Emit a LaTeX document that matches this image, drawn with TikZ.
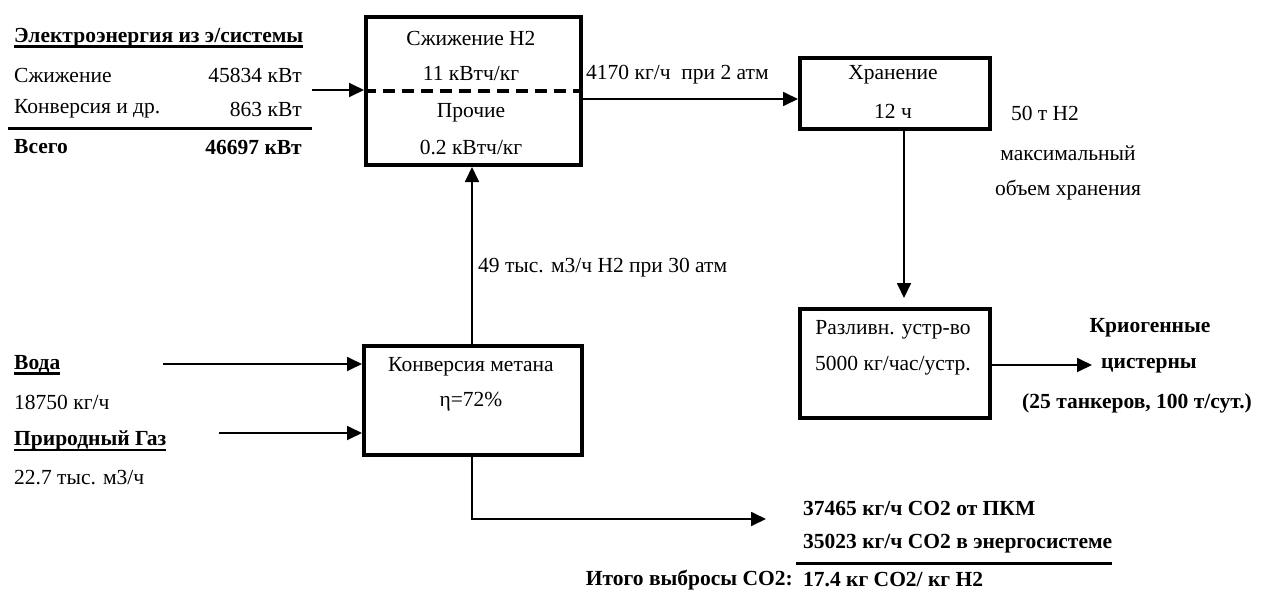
\documentclass[tikz,border=0pt]{standalone}
\usepackage{fontspec}
\setmainfont{Liberation Serif}
\usetikzlibrary{arrows.meta}
\newcommand\txtsize{\fontsize{21.5}{25}\selectfont}
% bold text with a heavy underline
\newcommand\ulbf[1]{\setbox0\hbox{\bfseries #1}\rlap{\rule[-5pt]{\wd0}{2.4pt}}\box0}
\begin{document}
\begin{tikzpicture}[x=1pt,y=-1pt,
  lbl/.style={inner sep=0pt, font=\txtsize},
  blbl/.style={inner sep=0pt, font=\txtsize\bfseries},
  box/.style={draw, line width=4pt, inner sep=0pt, anchor=north west},
  arr/.style={line width=1.8pt, -{Triangle[length=15pt,width=14pt]}},
  heavyrule/.style={line width=3pt}]
\useasboundingbox (0,0) rectangle (1262,592);

% electricity demand table
\node[lbl, anchor=west] (elhead) at (14,38) {\ulbf{Электроэнергия из э/системы}};
\node[lbl, anchor=west] (el1n) at (14,75) {Сжижение};
\node[lbl, anchor=east] (el1v) at (302,75) {45834 кВт};
\node[lbl, anchor=west] (el2n) at (14,109) {Конверсия и др.};
\node[lbl, anchor=east] (el2v) at (302,109) {863 кВт};
\coordinate (ruleL) at (8,128);
\coordinate (ruleR) at (312,128);
\draw[heavyrule] (ruleL) -- (ruleR);
\node[blbl, anchor=west] (eltn) at (14,147) {Всего};
\node[blbl, anchor=east] (eltv) at (302,147) {46697 кВт};

% process blocks
\node[box, minimum width=215pt, minimum height=148pt] (liq) at (364,15) {};
\node[box, minimum width=190pt, minimum height=71pt] (store) at (798,56) {};
\node[box, minimum width=190pt, minimum height=109pt] (fill) at (798,307) {};
\node[box, minimum width=218pt, minimum height=109pt] (conv) at (362,344) {};
\draw[line width=4pt, dash pattern=on 12pt off 7pt] (liq.west) -- (liq.east);

% block captions
\node[lbl] (liq1) at (471,38) {Сжижение Н2};
\node[lbl] (liq2) at (471,74) {11 кВтч/кг};
\node[lbl] (liq3) at (471,113) {Прочие};
\node[lbl] (liq4) at (471,147) {0.2 кВтч/кг};
\node[lbl] (store1) at (893,75) {Хранение};
\node[lbl] (store2) at (893,111) {12 ч};
\node[lbl] (fill1) at (893,330) {Разливн. устр-во};
\node[lbl] (fill2) at (893,366) {5000 кг/час/устр.};
\node[lbl] (conv1) at (471,367) {Конверсия метана};
\node[lbl] (conv2) at (471,402) {η=72\%};

% feed streams
\node[lbl, anchor=west] (water) at (14,365) {\ulbf{Вода}};
\node[lbl, anchor=west] (waterq) at (14,402) {18750 кг/ч};
\node[lbl, anchor=west] (gas) at (14,441) {\ulbf{Природный Газ}};
\node[lbl, anchor=west] (gasq) at (14,478) {22.7 тыс. м3/ч};

% flow labels
\node[lbl, anchor=west] (h2liq) at (586,75) {4170 кг/ч\ \ при 2 атм};
\node[lbl, anchor=west] (h2gas) at (478,268) {49 тыс. м3/ч Н2 при 30 атм};
\node[lbl] (cap1) at (1045,113) {50 т Н2};
\node[lbl] (cap2) at (1068,153) {максимальный};
\node[lbl] (cap3) at (1068,190) {объем хранения};
\node[blbl] (tank1) at (1150,328) {Криогенные};
\node[blbl] (tank2) at (1149,366) {цистерны};
\node[blbl] (tank3) at (1137,403) {(25 танкеров, 100 т/сут.)};

% emissions
\node[blbl, anchor=west] (co2a) at (803,508) {37465 кг/ч СО2 от ПКМ};
\node[blbl, anchor=west] (co2b) at (803,544) {35023 кг/ч СО2 в энергосистеме};
\coordinate (co2ruleL) at (796,563);
\draw[heavyrule] (co2ruleL) -- (co2ruleL -| co2b.east);
\node[blbl, anchor=east] (totl) at (793,580) {Итого выбросы СО2:};
\node[blbl, anchor=west] (totv) at (803,580) {17.4 кг СО2/ кг Н2};

% connectors
\coordinate (elsrc) at (312,90);
\draw[arr] (elsrc) -- (elsrc -| liq.west);
\coordinate (h2y) at (0,99);
\draw[arr] (liq.east |- h2y) -- (store.west |- h2y);
\coordinate (vx) at (904,0);
\draw[arr, shorten >=9pt] (vx |- store.south) -- (vx |- fill.north);
\coordinate (tank) at (1092,365);
\draw[arr] (fill.east |- tank) -- (tank);
\coordinate (cx) at (472,0);
\draw[arr] (cx |- conv.north) -- (cx |- liq.south);
\coordinate (wsrc) at (163,364);
\draw[arr] (wsrc) -- (wsrc -| conv.west);
\coordinate (gsrc) at (219,433);
\draw[arr] (gsrc) -- (gsrc -| conv.west);
\coordinate (co2corner) at (472,519);
\coordinate (co2tip) at (766,519);
\draw[arr] (cx |- conv.south) -- (co2corner) -- (co2tip);
\end{tikzpicture}
\end{document}
